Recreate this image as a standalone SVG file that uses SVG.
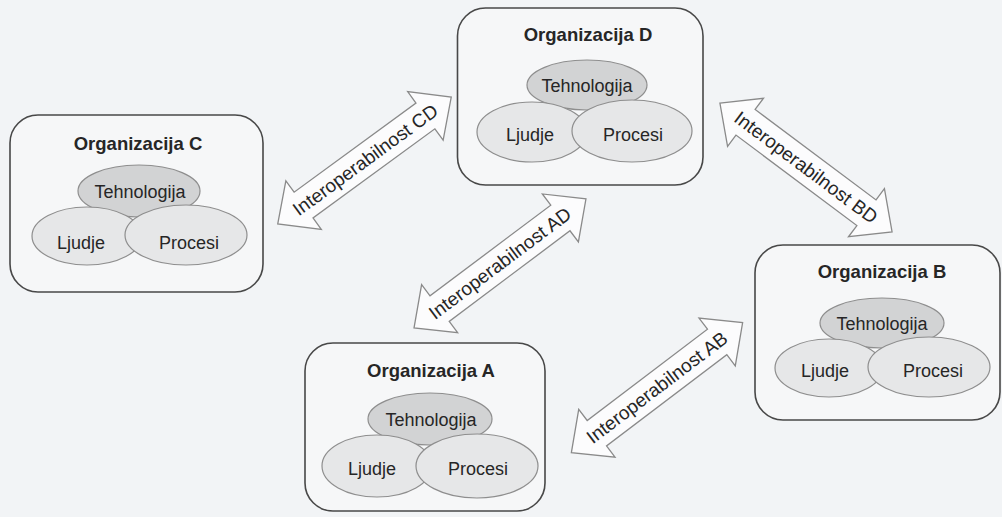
<svg xmlns="http://www.w3.org/2000/svg" width="1002" height="517" viewBox="0 0 1002 517">
<defs>
<style>
text{font-family:"Liberation Sans",Arial,Helvetica,sans-serif;fill:#262626;font-size:18px;text-anchor:middle}
.title{font-weight:bold;font-size:18.5px}
.alabel{font-size:19px}
.box{fill:#f6f7f8;stroke:#484848;stroke-width:1.6}
.tech{fill:#d2d3d4;stroke:#8e8e8e;stroke-width:1.2}
.ell{fill:#e6e7e8;stroke:#8e8e8e;stroke-width:1.2}
.arrow{fill:#fcfcfd;stroke:#8a8a8a;stroke-width:1.3;stroke-linejoin:miter}
</style>
<path id="darrow" d="M-107.5,0 L-75.5,-30 L-75.5,-16 L75.5,-16 L75.5,-30 L107.5,0 L75.5,30 L75.5,16 L-75.5,16 L-75.5,30 Z"/>
</defs>
<rect x="0" y="0" width="1002" height="517" fill="#f2f4f6"/>

<g id="connectors">
<g id="arrow-CD" transform="translate(364.5,160.5) rotate(-36.2)">
<use href="#darrow" class="arrow"/>
<text class="alabel" x="1" y="6.5">Interoperabilnost CD</text>
</g>
<g id="arrow-BD" transform="translate(806,167.5) rotate(36.8)">
<use href="#darrow" class="arrow"/>
<text class="alabel" x="0" y="6.5">Interoperabilnost BD</text>
</g>
<g id="arrow-AD" transform="translate(500,263.3) rotate(-36.9)">
<use href="#darrow" class="arrow"/>
<text class="alabel" x="0" y="6.5">Interoperabilnost AD</text>
</g>
<g id="arrow-AB" transform="translate(657,387.6) rotate(-37.2)">
<use href="#darrow" class="arrow"/>
<text class="alabel" x="0" y="6.5">Interoperabilnost AB</text>
</g>
</g>

<g id="org-D">
<rect class="box" x="457.5" y="8" width="245.5" height="177" rx="28"/>
<text class="title" x="588" y="41">Organizacija D</text>
<ellipse class="tech" cx="587" cy="85" rx="60" ry="25"/>
<text x="587" y="92">Tehnologija</text>
<ellipse class="ell" cx="532" cy="132" rx="55" ry="30"/>
<ellipse class="ell" cx="632" cy="131" rx="60" ry="31"/>
<text x="530" y="141">Ljudje</text>
<text x="633" y="141">Procesi</text>
</g>

<g id="org-C">
<rect class="box" x="10" y="115" width="253" height="177" rx="28"/>
<text class="title" x="138" y="150">Organizacija C</text>
<ellipse class="tech" cx="139" cy="191" rx="61" ry="26"/>
<text x="140" y="198">Tehnologija</text>
<ellipse class="ell" cx="87" cy="236" rx="55" ry="29"/>
<ellipse class="ell" cx="186" cy="235" rx="61" ry="30"/>
<text x="81" y="249">Ljudje</text>
<text x="189" y="249">Procesi</text>
</g>

<g id="org-A">
<rect class="box" x="305" y="343" width="240" height="168" rx="28"/>
<text class="title" x="431" y="377">Organizacija A</text>
<ellipse class="tech" cx="430" cy="419" rx="62" ry="26"/>
<text x="431" y="426">Tehnologija</text>
<ellipse class="ell" cx="377" cy="466" rx="55" ry="31"/>
<ellipse class="ell" cx="477" cy="466" rx="61" ry="32"/>
<text x="372" y="475">Ljudje</text>
<text x="478" y="475">Procesi</text>
</g>

<g id="org-B">
<rect class="box" x="755" y="245" width="245" height="175" rx="28"/>
<text class="title" x="882" y="278">Organizacija B</text>
<ellipse class="tech" cx="882" cy="323" rx="62" ry="25"/>
<text x="882" y="330">Tehnologija</text>
<ellipse class="ell" cx="829" cy="368" rx="54" ry="29"/>
<ellipse class="ell" cx="929" cy="367" rx="61" ry="30"/>
<text x="825" y="377">Ljudje</text>
<text x="933" y="377">Procesi</text>
</g>
</svg>
